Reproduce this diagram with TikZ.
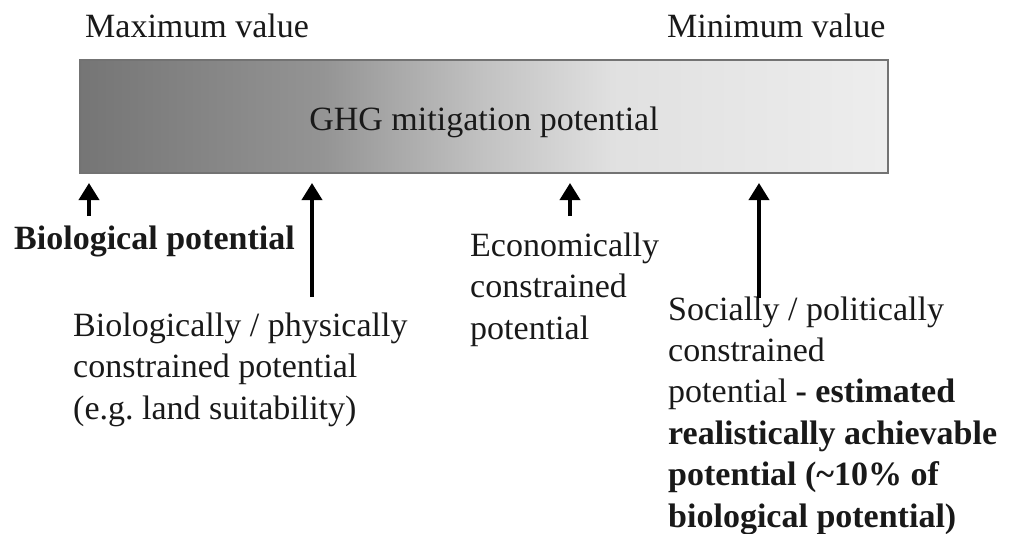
\documentclass[tikz,border=0pt]{standalone}
\usepackage{fontspec}
\setmainfont{Liberation Serif}
\usetikzlibrary{arrows.meta}
\definecolor{gA}{gray}{0.46}
\definecolor{gB}{gray}{0.58}
\definecolor{gC}{gray}{0.76}
\definecolor{gD}{gray}{0.88}
\definecolor{gE}{gray}{0.93}
\definecolor{txt}{gray}{0.1}
\definecolor{frame}{gray}{0.45}
\pgfdeclarehorizontalshading{ghg}{100bp}{color(0bp)=(gA); color(25bp)=(gA); color(40bp)=(gB); color(50bp)=(gC); color(58bp)=(gD); color(75bp)=(gE); color(100bp)=(gE)}
\tikzset{
  lbl/.style={anchor=base west, inner sep=0pt, text=txt, align=left,
    font=\fontsize{34}{41.4}\selectfont},
  upar/.style={line width=3.6pt, draw=black, -{Triangle[width=20pt,length=17pt]}},
}
\begin{document}
\begin{tikzpicture}[x=1pt,y=-1pt]
\useasboundingbox (0,0) rectangle (1012,533);
\node[draw=frame, line width=1.8pt, shading=ghg, minimum width=808pt, minimum height=113pt,
  inner sep=0pt] (bar) at (484,116.5) {};
\node[lbl, anchor=base] (ghg) at (484,130) {GHG mitigation potential};
\node[lbl] (max) at (85,37) {Maximum value};
\node[lbl] (min) at (667,37) {Minimum value};
\node[lbl, font=\fontsize{34}{41.4}\selectfont\bfseries] (bio) at (14,249) {Biological potential};
\node[lbl] (phys) at (73,419) {Biologically / physically\\constrained potential\\(e.g.\ land suitability)};
\node[lbl] (eco) at (470,339) {Economically\\constrained\\potential};
\node[lbl] (soc) at (668,527) {Socially / politically\\constrained\\potential \textbf{- estimated}\\\textbf{realistically achievable}\\\textbf{potential (\textasciitilde10\% of}\\\textbf{biological potential)}};
\coordinate (a1) at (89,216);
\coordinate (a2) at (312,297);
\coordinate (a3) at (570,216);
\coordinate (a4) at (759,298);
\draw[upar] (a1) -- (a1 |- {(0,183)});
\draw[upar] (a2) -- (a2 |- {(0,183)});
\draw[upar] (a3) -- (a3 |- {(0,183)});
\draw[upar] (a4) -- (a4 |- {(0,183)});
\end{tikzpicture}
\end{document}
